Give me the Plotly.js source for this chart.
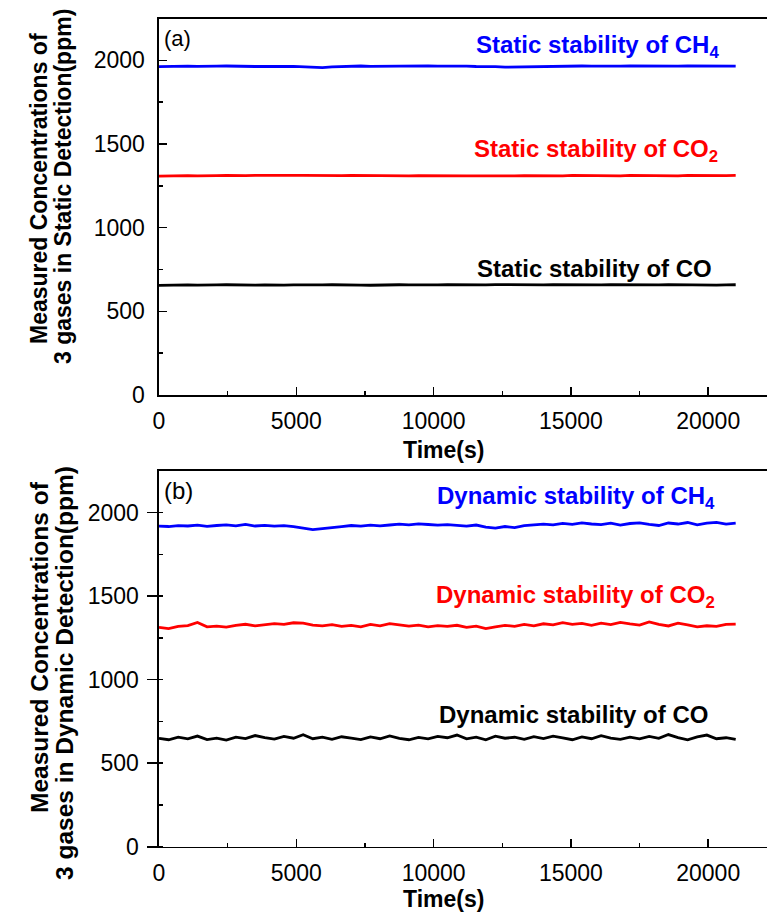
<!DOCTYPE html>
<html>
<head>
<meta charset="utf-8">
<script src="https://cdn.plot.ly/plotly-3.0.1.min.js"></script>
<style>html,body{margin:0;padding:0;overflow:hidden;background:#fff;}#chart{width:767px;height:914px;}</style>
</head>
<body>
<div id="chart"></div>
<script>
// Time axis (s)
const times = [
  0,350,700,1050,1400,1750,2100,2450,2800,3150,
  3500,3850,4200,4550,4900,5250,5600,5950,6300,6650,
  7000,7350,7700,8050,8400,8750,9100,9450,9800,10150,
  10500,10850,11200,11550,11900,12250,12600,12950,13300,13650,
  14000,14350,14700,15050,15400,15750,16100,16450,16800,17150,
  17500,17850,18200,18550,18900,19250,19600,19950,20300,20650,
  21000
];

// (a) Static detection (ppm)
const staticCH4 = [
  1962,1964,1963,1965,1964,1963,1965,1966,1964,1965,
  1963,1964,1962,1963,1964,1962,1958,1957,1961,1964,
  1965,1966,1964,1965,1966,1965,1964,1966,1967,1965,
  1966,1964,1965,1963,1964,1962,1959,1960,1963,1965,
  1964,1966,1965,1967,1966,1965,1964,1966,1965,1967,
  1966,1965,1964,1966,1965,1967,1966,1965,1964,1966,
  1965
];
const staticCO2 = [
  1308,1310,1309,1311,1310,1309,1311,1312,1310,1311,
  1312,1313,1311,1312,1313,1312,1311,1312,1313,1311,
  1312,1311,1310,1312,1311,1310,1309,1311,1310,1309,
  1310,1308,1309,1310,1309,1308,1310,1309,1311,1310,
  1309,1311,1310,1312,1311,1310,1309,1311,1310,1312,
  1311,1310,1309,1311,1310,1312,1311,1310,1309,1311,
  1312
];
const staticCO = [
  655,657,656,658,657,656,658,659,657,658,
  657,658,656,657,658,657,656,658,659,657,
  658,657,656,658,657,659,658,657,656,658,
  659,658,657,659,658,660,659,658,657,659,
  658,660,659,661,660,659,658,660,659,661,
  660,659,658,660,659,657,658,659,657,658,
  659
];

// (b) Dynamic detection (ppm)
const dynamicCH4 = [
  1918,1916,1921,1919,1924,1917,1922,1926,1920,1929,
  1919,1923,1918,1921,1915,1908,1898,1904,1912,1916,
  1922,1918,1924,1920,1925,1930,1926,1932,1928,1924,
  1927,1922,1918,1925,1912,1907,1916,1910,1921,1926,
  1930,1926,1935,1929,1938,1931,1927,1936,1924,1934,
  1938,1929,1922,1937,1931,1940,1926,1936,1941,1930,
  1936
];
const dynamicCO2 = [
  1312,1305,1318,1323,1342,1316,1320,1314,1325,1331,
  1322,1328,1335,1330,1340,1338,1326,1321,1329,1318,
  1324,1316,1330,1322,1335,1328,1320,1326,1315,1323,
  1318,1325,1312,1320,1305,1316,1324,1319,1330,1322,
  1334,1327,1341,1330,1336,1324,1338,1329,1342,1333,
  1326,1345,1330,1321,1338,1328,1315,1322,1318,1330,
  1332
];
const dynamicCO = [
  648,640,655,645,662,641,650,638,656,647,
  665,652,644,660,649,670,646,655,642,658,
  650,641,657,646,663,648,640,654,645,660,
  652,668,645,656,640,661,649,655,643,659,
  647,662,651,640,657,646,664,650,642,655,
  645,660,648,671,653,640,657,668,646,652,
  642
];

const xTickStep = 5000;   // labelled x ticks: 0 … 20000
const yTickStep = 500;    // labelled y ticks: 0 … 2000

const W = 767, H = 914;
const px = x => x / W;
const py = y => 1 - y / H;
const FONT = "Liberation Sans, Arial, sans-serif";

function line(x, y, color, xa, ya) {
  return {x: x, y: y, type: 'scatter', mode: 'lines', xaxis: xa, yaxis: ya,
          line: {color: color, width: 2.8}, hoverinfo: 'skip', showlegend: false};
}

const data = [
  line(times, staticCH4, '#0000ff', 'x', 'y'),
  line(times, staticCO2, '#ff0000', 'x', 'y'),
  line(times, staticCO, '#000000', 'x', 'y'),
  line(times, dynamicCH4, '#0000ff', 'x2', 'y2'),
  line(times, dynamicCO2, '#ff0000', 'x2', 'y2'),
  line(times, dynamicCO, '#000000', 'x2', 'y2')
];

function xaxis(anchor) {
  return {
    domain: [px(159), 1], anchor: anchor, range: [0, 22140],
    showline: true, linecolor: '#000', linewidth: 1.6, mirror: true,
    tickmode: 'linear', tick0: 0, dtick: xTickStep,
    exponentformat: 'none', separatethousands: false, tickformat: 'd',
    ticks: 'inside', ticklen: 8, tickwidth: 1.6, tickcolor: '#000',
    minor: {tickmode: 'linear', tick0: 0, dtick: xTickStep / 2, ticks: 'inside', ticklen: 4, tickwidth: 1.5, tickcolor: '#000', showgrid: false},
    showgrid: false, zeroline: false,
    tickfont: {family: FONT, size: 23, color: '#000'}, ticklabelstandoff: 5
  };
}
function yaxis(dom, anchor, outside) {
  return {
    domain: dom, anchor: anchor, range: [0, 2250],
    showline: true, linecolor: '#000', linewidth: 1.6, mirror: false,
    tickmode: 'linear', tick0: 0, dtick: yTickStep,
    exponentformat: 'none', tickformat: 'd',
    ticks: outside ? 'outside' : 'inside', ticklen: outside ? 10 : 8, tickwidth: 1.6, tickcolor: '#000',
    minor: {tickmode: 'linear', tick0: 0, dtick: yTickStep / 2, ticks: 'inside', ticklen: 4, tickwidth: 1.5, tickcolor: '#000', showgrid: false},
    showgrid: false, zeroline: false,
    tickfont: {family: FONT, size: 23, color: '#000'}, ticklabelstandoff: outside ? 4 : 8
  };
}

function ann(text, x, y, size, color, bold, opts) {
  return Object.assign({
    text: bold ? '<b>' + text + '</b>' : text, xref: 'paper', yref: 'paper',
    x: px(x), y: py(y), xanchor: 'left', yanchor: 'middle', showarrow: false,
    font: {family: FONT, size: size, color: color}
  }, opts || {});
}

const annotations = [
  ann('(a)', 162, 38, 22, '#000', false),
  ann('(b)', 162, 490, 24, '#000', false),
  ann('Static stability of CH<sub>4</sub>', 474, 46, 24, '#0000ff', true),
  ann('Static stability of CO<sub>2</sub>', 472, 151, 24, '#ff0000', true),
  ann('Static stability of CO', 475, 268, 24, '#000000', true),
  ann('Dynamic stability of CH<sub>4</sub>', 435, 497, 24, '#0000ff', true),
  ann('Dynamic stability of CO<sub>2</sub>', 434, 596, 24, '#ff0000', true),
  ann('Dynamic stability of CO', 437, 714, 24, '#000000', true),
  ann('Time(s)', 443, 450, 23, '#000', true, {xanchor: 'center'}),
  ann('Time(s)', 443, 899, 23, '#000', true, {xanchor: 'center'}),
  ann('Measured Concentrations of', 39, 189, 23, '#000', true, {xanchor: 'center', textangle: -90}),
  ann('3 gases in Static Detection(ppm)', 63, 187, 23, '#000', true, {xanchor: 'center', textangle: -90}),
  ann('Measured Concentrations of', 39, 647, 24.5, '#000', true, {xanchor: 'center', textangle: -90}),
  ann('3 gases in Dynamic Detection(ppm)', 64, 673, 24.5, '#000', true, {xanchor: 'center', textangle: -90})
];

const layout = {
  width: W, height: H,
  margin: {l: 0, r: 0, t: 0, b: 0},
  paper_bgcolor: '#fff', plot_bgcolor: '#fff',
  showlegend: false,
  xaxis: xaxis('y'),
  yaxis: yaxis([py(395), py(18.5)], 'x', false),
  xaxis2: xaxis('y2'),
  yaxis2: yaxis([py(846.7), py(470.7)], 'x2', true),
  annotations: annotations,
  font: {family: FONT, color: '#000'}
};

Plotly.newPlot('chart', data, layout, {displayModeBar: false, staticPlot: true});
</script>
</body>
</html>
